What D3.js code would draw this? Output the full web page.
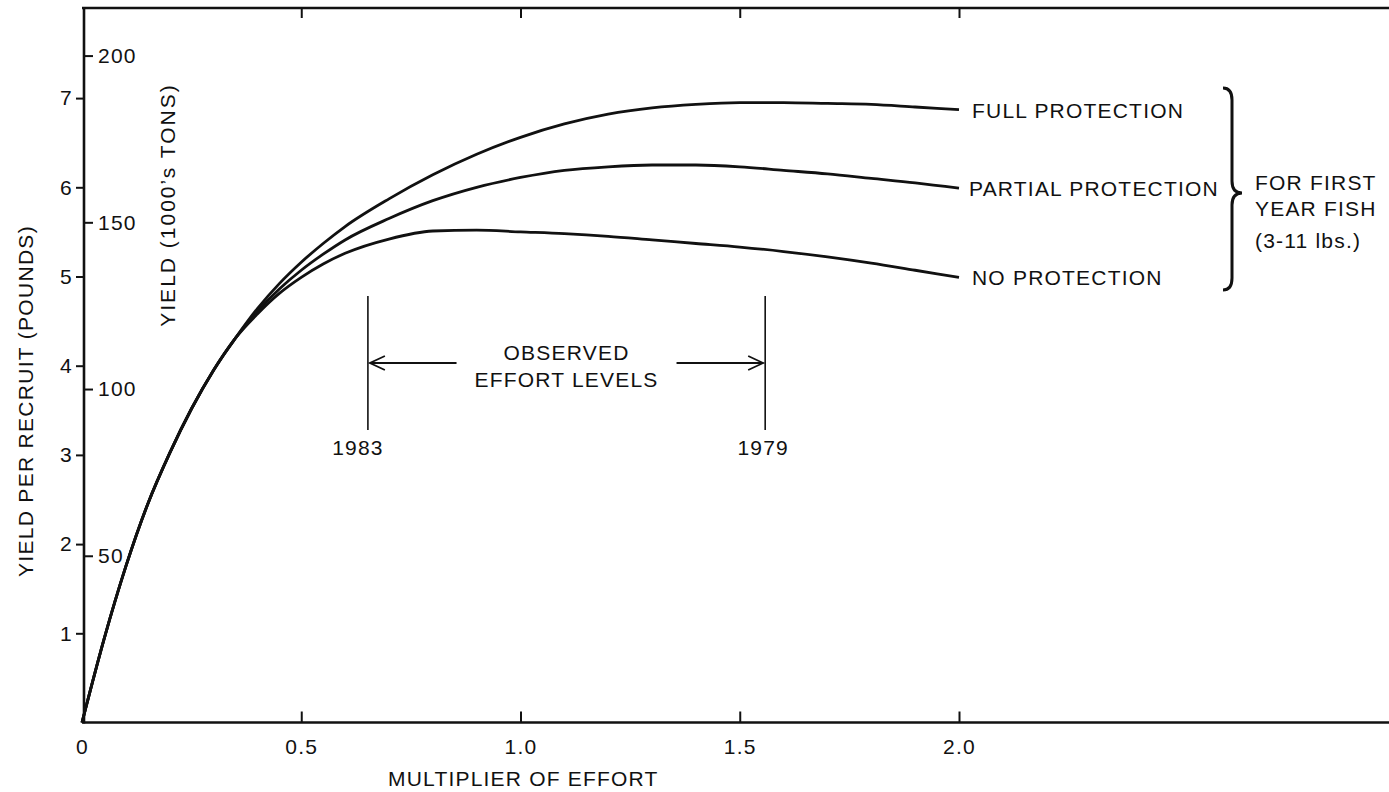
<!DOCTYPE html>
<html>
<head>
<meta charset="utf-8">
<script src="https://cdn.jsdelivr.net/npm/d3@7"></script>
<style>
  html, body { margin: 0; padding: 0; background: #fff; }
  svg { display: block; }
  text { font-family: "Liberation Sans", Arial, Helvetica, sans-serif; fill: #111; font-size: 21px; letter-spacing: 1.2px; }
</style>
</head>
<body>
<svg id="chart" width="1389" height="792"></svg>
<script>
// ---------- data ----------
const effort = [0, 0.05, 0.10, 0.15, 0.20, 0.25, 0.30, 0.35, 0.40, 0.45, 0.50, 0.55, 0.60, 0.70, 0.80, 0.90, 1.00, 1.10, 1.20, 1.30, 1.40, 1.50, 1.60, 1.70, 1.80, 1.90, 2.00];
const fullProtection    = [0, 0.93, 1.75, 2.45, 3.02, 3.52, 3.95, 4.31, 4.64, 4.92, 5.16, 5.37, 5.56, 5.87, 6.14, 6.37, 6.56, 6.71, 6.82, 6.89, 6.93, 6.95, 6.95, 6.94, 6.93, 6.90, 6.87];
const partialProtection = [0, 0.93, 1.75, 2.45, 3.02, 3.52, 3.95, 4.31, 4.61, 4.86, 5.07, 5.25, 5.41, 5.65, 5.85, 6.00, 6.11, 6.19, 6.23, 6.25, 6.25, 6.23, 6.19, 6.15, 6.10, 6.05, 5.99];
const noProtection      = [0, 0.93, 1.75, 2.45, 3.02, 3.52, 3.95, 4.31, 4.58, 4.81, 4.99, 5.14, 5.26, 5.42, 5.51, 5.52, 5.50, 5.48, 5.45, 5.41, 5.37, 5.33, 5.28, 5.22, 5.15, 5.07, 4.99];
const seriesNames = ["FULL PROTECTION", "PARTIAL PROTECTION", "NO PROTECTION"];
const xTicks = [0, 0.5, 1.0, 1.5, 2.0];
const xTickLabels = ["0", "0.5", "1.0", "1.5", "2.0"];
const yTicks = [1, 2, 3, 4, 5, 6, 7];
const tonTicks = [50, 100, 150, 200];
const observedYears = ["1983", "1979"];
const observedEffort = [0.652, 1.558];
const bracketLines = ["FOR FIRST", "YEAR FISH", "(3-11 lbs.)"];

// ---------- scales ----------
const svg = d3.select("#chart");
const x = d3.scaleLinear().domain([0, 2]).range([82, 959]);
const y = d3.scaleLinear().domain([0, 7]).range([722.5, 98.1]);
const yTons = d3.scaleLinear().domain([0, 200]).range([722.5, 722.5 - 200 * (y(0) - y(1)) / 26.75]);
const xLeft = x(0), yBottom = y(0), yTop = 8, xRight = 1389;

// frame lines
svg.append("line").attr("x1", xLeft).attr("x2", xRight).attr("y1", yBottom).attr("y2", yBottom)
  .attr("stroke", "#111").attr("stroke-width", 2.6);
svg.append("line").attr("x1", xLeft).attr("x2", xRight).attr("y1", yTop).attr("y2", yTop)
  .attr("stroke", "#111").attr("stroke-width", 2.6);
svg.append("line").attr("x1", xLeft + 2).attr("x2", xLeft + 2).attr("y1", yTop - 1).attr("y2", yBottom + 1)
  .attr("stroke", "#111").attr("stroke-width", 2.6);

// bottom axis (inward ticks)
const gx = svg.append("g").attr("transform", `translate(0,${yBottom})`)
  .call(d3.axisBottom(x).tickValues(xTicks).tickSize(-11).tickPadding(17)
    .tickFormat((d, i) => xTickLabels[i]));
gx.select(".domain").remove();
gx.selectAll(".tick line").attr("stroke", "#111").attr("stroke-width", 2).filter(d => d === 0).remove();
gx.selectAll(".tick text").attr("font-size", null).attr("font-family", null);

// top axis ticks
const gt = svg.append("g").attr("transform", `translate(0,${yTop})`)
  .call(d3.axisTop(x).tickValues(xTicks.slice(1)).tickSize(-10).tickFormat(""));
gt.select(".domain").remove();
gt.selectAll(".tick line").attr("stroke", "#111").attr("stroke-width", 2);

// left axis (pounds)
const gy = svg.append("g").attr("transform", `translate(${xLeft + 2},0)`)
  .call(d3.axisLeft(y).tickValues(yTicks).tickSize(8).tickPadding(3).tickFormat(d3.format("d")));
gy.select(".domain").remove();
gy.selectAll(".tick line").attr("stroke", "#111").attr("stroke-width", 2);
gy.selectAll(".tick text").attr("font-size", null).attr("font-family", null);

// inner axis (1000's tons)
const gy2 = svg.append("g").attr("transform", `translate(${xLeft + 2},0)`)
  .call(d3.axisRight(yTons).tickValues(tonTicks).tickSize(9).tickPadding(5));
gy2.select(".domain").remove();
gy2.selectAll(".tick line").attr("stroke", "#111").attr("stroke-width", 2);
gy2.selectAll(".tick text").attr("font-size", null).attr("font-family", null);

// axis titles
svg.append("text").attr("x", 388).attr("y", 786).text("MULTIPLIER OF EFFORT");
svg.append("text").attr("transform", "translate(33,401) rotate(-90)").attr("text-anchor", "middle")
  .style("letter-spacing", "1.3px").text("YIELD PER RECRUIT (POUNDS)");
svg.append("text").attr("transform", "translate(175,205) rotate(-90)").attr("text-anchor", "middle")
  .style("letter-spacing", "2px").text("YIELD (1000’s TONS)");

// curves
const allSeries = [fullProtection, partialProtection, noProtection];
const line = d3.line().x((d, i) => x(effort[i])).y(d => y(d)).curve(d3.curveMonotoneX);
svg.append("g").selectAll("path").data(allSeries).join("path")
  .attr("d", d => line(d)).attr("fill", "none").attr("stroke", "#111").attr("stroke-width", 2.8)
  .attr("stroke-linejoin", "round");

// series labels
const labelDx = [13, 10, 13];
svg.append("g").selectAll("text").data(allSeries).join("text")
  .attr("x", (d, i) => x(effort[effort.length - 1]) + labelDx[i])
  .attr("y", d => y(d[d.length - 1]) + 8)
  .text((d, i) => seriesNames[i]);

// bracket
const bx = 1232, bTop = 88, bBot = 290, bMid = 193;
svg.append("path")
  .attr("d", `M${bx - 9},${bTop} Q${bx},${bTop} ${bx},${bTop + 12} L${bx},${bMid - 12} Q${bx},${bMid} ${bx + 10},${bMid}
              Q${bx},${bMid} ${bx},${bMid + 12} L${bx},${bBot - 12} Q${bx},${bBot} ${bx - 9},${bBot}`)
  .attr("fill", "none").attr("stroke", "#111").attr("stroke-width", 3);
svg.append("g").selectAll("text").data(bracketLines).join("text")
  .attr("x", 1255).attr("y", (d, i) => [189.5, 215.5, 247.5][i]).text(d => d);

// observed effort markers
const obsTop = 296, obsBot = 430, arrowY = 363;
svg.append("g").selectAll("line").data(observedEffort).join("line")
  .attr("x1", d => x(d)).attr("x2", d => x(d)).attr("y1", obsTop).attr("y2", obsBot)
  .attr("stroke", "#111").attr("stroke-width", 1.6);
svg.append("g").selectAll("text").data(observedEffort).join("text")
  .attr("x", (d, i) => x(d) + (i === 0 ? -10 : -2)).attr("y", 455).attr("text-anchor", "middle")
  .text((d, i) => observedYears[i]);

// arrows
const xa = x(observedEffort[0]), xb = x(observedEffort[1]);
const mid = (xa + xb) / 2;
const gapHalf = 110;
const arrowG = svg.append("g").attr("fill", "none").attr("stroke", "#111").attr("stroke-width", 1.8);
arrowG.append("line").attr("x1", mid - gapHalf).attr("x2", xa + 2).attr("y1", arrowY).attr("y2", arrowY);
arrowG.append("path").attr("d", `M${xa + 17},${arrowY - 7} L${xa + 2},${arrowY} L${xa + 17},${arrowY + 7}`);
arrowG.append("line").attr("x1", mid + gapHalf).attr("x2", xb - 2).attr("y1", arrowY).attr("y2", arrowY);
arrowG.append("path").attr("d", `M${xb - 17},${arrowY - 7} L${xb - 2},${arrowY} L${xb - 17},${arrowY + 7}`);
svg.append("text").attr("x", mid).attr("y", 360).attr("text-anchor", "middle").text("OBSERVED");
svg.append("text").attr("x", mid).attr("y", 387).attr("text-anchor", "middle").text("EFFORT LEVELS");
</script>
</body>
</html>
